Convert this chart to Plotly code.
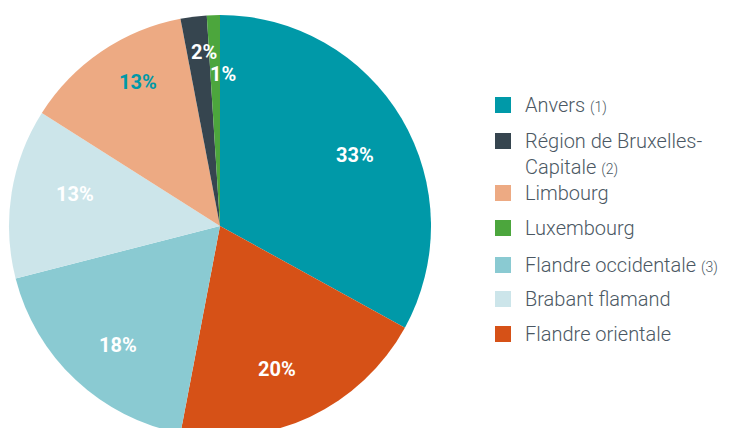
import math
import plotly.graph_objects as go

# Data (clockwise from 12 o'clock)
labels = ["Anvers", "Flandre orientale", "Flandre occidentale", "Brabant flamand",
          "Limbourg", "Région de Bruxelles-Capitale", "Luxembourg"]
values = [33, 20, 18, 13, 13, 2, 1]
colors = ["#0099A8", "#D65117", "#8ACAD2", "#CCE5EA", "#EDAA83", "#36454F", "#4CA63D"]
label_colors = ["white", "white", "white", "white", "#0099A8", "white", "white"]
label_radius = [0.723, 0.73, 0.743, 0.704, 0.785, 0.828, 0.72]
label_angle_shift = [2.9, 3.5, -2.6, 3.4, 4.5, 1.9, 2.9]

# Legend (display order)
legend_names = ["Anvers", "Région de Bruxelles-<br>Capitale", "Limbourg", "Luxembourg",
                "Flandre occidentale", "Brabant flamand", "Flandre orientale"]
legend_notes = ["(1)", "(2)", "", "", "(3)", "", ""]
legend_keys = ["Anvers", "Région de Bruxelles-Capitale", "Limbourg", "Luxembourg",
               "Flandre occidentale", "Brabant flamand", "Flandre orientale"]

W, H = 736, 450
T, B = 15, 13
CX, CY, R = 220, 226, 211

def px_to_paper(px, py):
    return px / W, (H - B - py) / (H - T - B)

fig = go.Figure()
fig.add_trace(go.Pie(
    labels=labels, values=values, sort=False, direction="clockwise", rotation=0,
    marker=dict(colors=colors, line=dict(width=0)),
    textinfo="none", hoverinfo="label+percent", showlegend=False,
    domain=dict(x=[(CX - R) / W, (CX + R) / W], y=[0, 1]),
))

total = sum(values)
cum = 0
annotations = []
for v, c, rf, sh in zip(values, label_colors, label_radius, label_angle_shift):
    mid = ((cum + v / 2) / total * 360 + sh) * math.pi / 180
    cum += v
    px = CX + rf * R * math.sin(mid)
    py = CY - rf * R * math.cos(mid)
    x, y = px_to_paper(px, py)
    annotations.append(dict(
        x=x, y=y, xref="paper", yref="paper", showarrow=False,
        text=f"<b>{round(v / total * 100)}%</b>",
        font=dict(family="Roboto", size=20, color=c),
        xanchor="center", yanchor="middle",
    ))

shapes = []
row_y = [105, 141, 193, 228, 265, 299, 334]
for i, (name, note, key) in enumerate(zip(legend_names, legend_notes, legend_keys)):
    col = colors[labels.index(key)]
    yc = row_y[i]
    x0, y0 = px_to_paper(495, yc - 8)
    x1, y1 = px_to_paper(511, yc + 8)
    shapes.append(dict(type="rect", xref="paper", yref="paper", x0=x0, x1=x1, y0=y1, y1=y0,
                       fillcolor=col, line=dict(width=0)))
    txt = name
    if note:
        txt += f" <span style='font-size:14px'>{note}</span>"
    nlines = txt.count("<br>") + 1
    tx, ty = px_to_paper(523, yc + (nlines - 1) * 13)
    annotations.append(dict(
        x=tx, y=ty, xref="paper", yref="paper", showarrow=False, text=txt,
        align="left", xanchor="left", yanchor="middle",
        font=dict(family="Roboto Slab, Roboto", size=20, color="#4B5863", weight=300),
    ))

fig.update_layout(
    width=W, height=H, margin=dict(l=0, r=0, t=T, b=B),
    paper_bgcolor="white", plot_bgcolor="white",
    annotations=annotations, shapes=shapes, showlegend=False,
)

fig.write_html("out.html", post_script="document.body.style.overflow='hidden';document.body.style.margin='0';")
